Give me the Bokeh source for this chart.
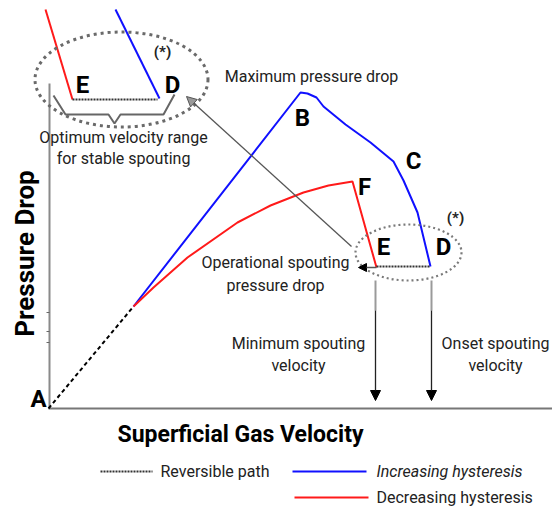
from bokeh.plotting import figure
from bokeh.models import Range1d, Arrow, NormalHead
from bokeh.core.properties import value
from bokeh.embed import file_html
from bokeh.resources import INLINE
import math

# ---- data (velocity on x, pressure drop on y; schematic units) ----
rev_v = [0, 85]
rev_dp = [0, 102]

inc_v = [85, 252, 259, 268, 275, 297, 322, 345, 355, 369, 382]
inc_dp = [102, 316, 315, 311, 302, 284, 266, 247, 228, 196, 142]

dec_v = [85, 105, 139, 189, 222, 255, 280, 304, 328]
dec_dp = [102, 121, 151, 186, 203, 216, 223, 227, 141]

op_v = [328, 382]
op_dp = [142, 142]

inset_red_v = [-3, 24]
inset_red_dp = [399, 309]
inset_blue_v = [67, 111]
inset_blue_dp = [399, 310]
inset_dot_v = [24, 109]
inset_dot_dp = [309, 309]

brace_v = [5, 17, 60, 66, 72, 115, 126]
brace_dp = [313, 294, 294, 285, 294, 294, 314]

point_labels = ["A", "B", "C", "F", "E", "D", "E", "D"]
point_lv = [-10, 254, 365, 316, 335, 395, 34, 124]
point_ldp = [10, 291, 248, 222, 162, 162, 324, 324]

ann_text = ["Maximum pressure drop", "Optimum velocity range", "for stable spouting",
            "Operational spouting", "pressure drop", "Minimum spouting", "velocity",
            "Onset spouting", "velocity"]
ann_v = [263, 75, 75, 227, 227, 250, 250, 447, 447]
ann_dp = [332, 271, 250, 146, 123, 65, 43, 65, 43]

star_v = [407, 114]
star_dp = [191, 357]

W, H = 552, 512
p = figure(width=W, height=H, output_backend="svg", toolbar_location=None,
           x_range=Range1d(-48, 504), y_range=Range1d(-104, 408),
           x_axis_type=None, y_axis_type=None, min_border=0)
p.grid.visible = False
p.outline_line_color = None

FONT = value("Roboto")

# axes
p.line([1, 1], [0, 325], line_color="#8a8a8a", line_width=2)
p.line([0, 504], [0, 0], line_color="#777777", line_width=2)
for t in [96, 77, 66]:
    p.line([-2, 1], [t, t], line_color="#666666", line_width=1)

# curves
p.line(rev_v, rev_dp, line_color="black", line_width=2, line_dash="4 3")
p.line(inc_v, inc_dp, line_color="#1010ff", line_width=2)
p.line(dec_v, dec_dp, line_color="#ff1a1a", line_width=2)
p.line(op_v, op_dp, line_color="#333333", line_width=2, line_dash="2 1")

# inset
p.line(inset_red_v, inset_red_dp, line_color="#ff1a1a", line_width=2)
p.line(inset_blue_v, inset_blue_dp, line_color="#1010ff", line_width=2)
p.line(inset_dot_v, inset_dot_dp, line_color="#333333", line_width=2, line_dash="2 1")
p.line(brace_v, brace_dp, line_color="#666666", line_width=2)

# ellipses
p.ellipse(x=[360], y=[156], width=106, height=56, fill_color=None,
          line_color="#7a7a7a", line_width=2.2, line_dash="2 3")
p.ellipse(x=[73], y=[329], width=173, height=95, fill_color=None,
          line_color="#6a6a6a", line_width=3, line_dash="3 4")

# arrows
p.add_layout(Arrow(x_start=303, y_start=162, x_end=138, y_end=312,
                   line_color="#555555", line_width=1.3,
                   end=NormalHead(size=10, fill_color="#999999", line_color="#555555", line_width=1)))
p.add_layout(Arrow(x_start=328, y_start=141, x_end=310, y_end=141,
                   line_color="#555555", line_width=1.5,
                   end=NormalHead(size=8, fill_color="black", line_color="black")))
for xv in [327, 383]:
    p.line([xv, xv], [128, 98], line_color="#9a9a9a", line_width=2)
    p.add_layout(Arrow(x_start=xv, y_start=98, x_end=xv, y_end=8,
                       line_color="#222222", line_width=1.3,
                       end=NormalHead(size=10, fill_color="black", line_color="black")))

# point labels
p.text(point_lv, point_ldp, text=point_labels, text_font=FONT, text_font_style="bold",
       text_font_size="24px", text_align="center", text_baseline="middle", text_color="black")
p.text(star_v, star_dp, text=["(*)", "(*)"], text_font=FONT, text_font_style="bold",
       text_font_size="15px", text_align="center", text_baseline="middle", text_color="#222222")

# annotation texts
p.text(ann_v, ann_dp, text=ann_text, text_font=FONT, text_font_size="16px",
       text_align="center", text_baseline="middle", text_color="#222222")

# axis titles
p.text([-24], [155], text=["Pressure Drop"], angle=math.pi / 2, text_font=FONT,
       text_font_style="bold", text_font_size="26px", text_align="center",
       text_baseline="middle", text_color="black")
p.text([192], [-26], text=["Superficial Gas Velocity"], text_font=FONT,
       text_font_style="bold", text_font_size="23px", text_align="center",
       text_baseline="middle", text_color="black")

# legend
p.line([52, 104], [-63, -63], line_color="#333333", line_width=2, line_dash="2 1")
p.line([244, 318], [-63, -63], line_color="#1010ff", line_width=2)
p.line([246, 320], [-89, -89], line_color="#ff1a1a", line_width=2)
p.text([112], [-63], text=["Reversible path"], text_font=FONT, text_font_size="16px",
       text_baseline="middle", text_color="#222222")
p.text([328], [-63], text=["Increasing hysteresis"], text_font=FONT, text_font_size="16px",
       text_font_style="italic", text_baseline="middle", text_color="#222222")
p.text([328], [-89], text=["Decreasing hysteresis"], text_font=FONT, text_font_size="16px",
       text_baseline="middle", text_color="#222222")

open("out.html", "w").write(file_html(p, INLINE))
